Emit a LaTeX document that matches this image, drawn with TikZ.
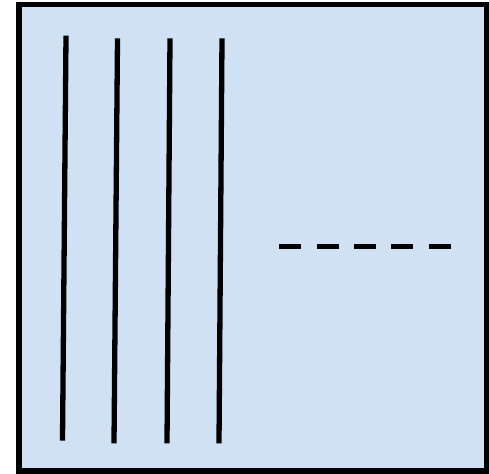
\documentclass[tikz,border=0pt]{standalone}
\usepackage{tikz}

\definecolor{paneblue}{RGB}{208,225,243}

\begin{document}
\begin{tikzpicture}[x=0.02cm,y=-0.02cm]

% ------------------------------------------------------------------
% Workspace is 489 by 473 units, origin at the top left corner.
% Each stripe is given as: \stripe{x top}{y top}{x bottom}{y bottom}
% ------------------------------------------------------------------
\newcommand{\stripe}[4]{%
  \draw[black, line width=0.106cm] (#1,#2) -- (#3,#4);
}

\useasboundingbox (0,0) rectangle (489,473);

% Pale blue panel with thick black frame.
\filldraw[fill=paneblue, draw=black, line width=0.11cm]
  (19,4.5) rectangle (487,471);

% Four near-vertical stripes on the left.
\stripe{66}{35.7}{62.5}{440.7}
\stripe{117.5}{38.3}{114}{443.3}
\stripe{170}{38.3}{167}{443.3}
\stripe{222}{38.3}{219}{443.3}

% Dashed rule on the right.
\draw[black, line width=0.11cm, dash pattern=on 0.44cm off 0.307cm]
  (279.3,246.5) -- (450.7,246.5);

\end{tikzpicture}
\end{document}
